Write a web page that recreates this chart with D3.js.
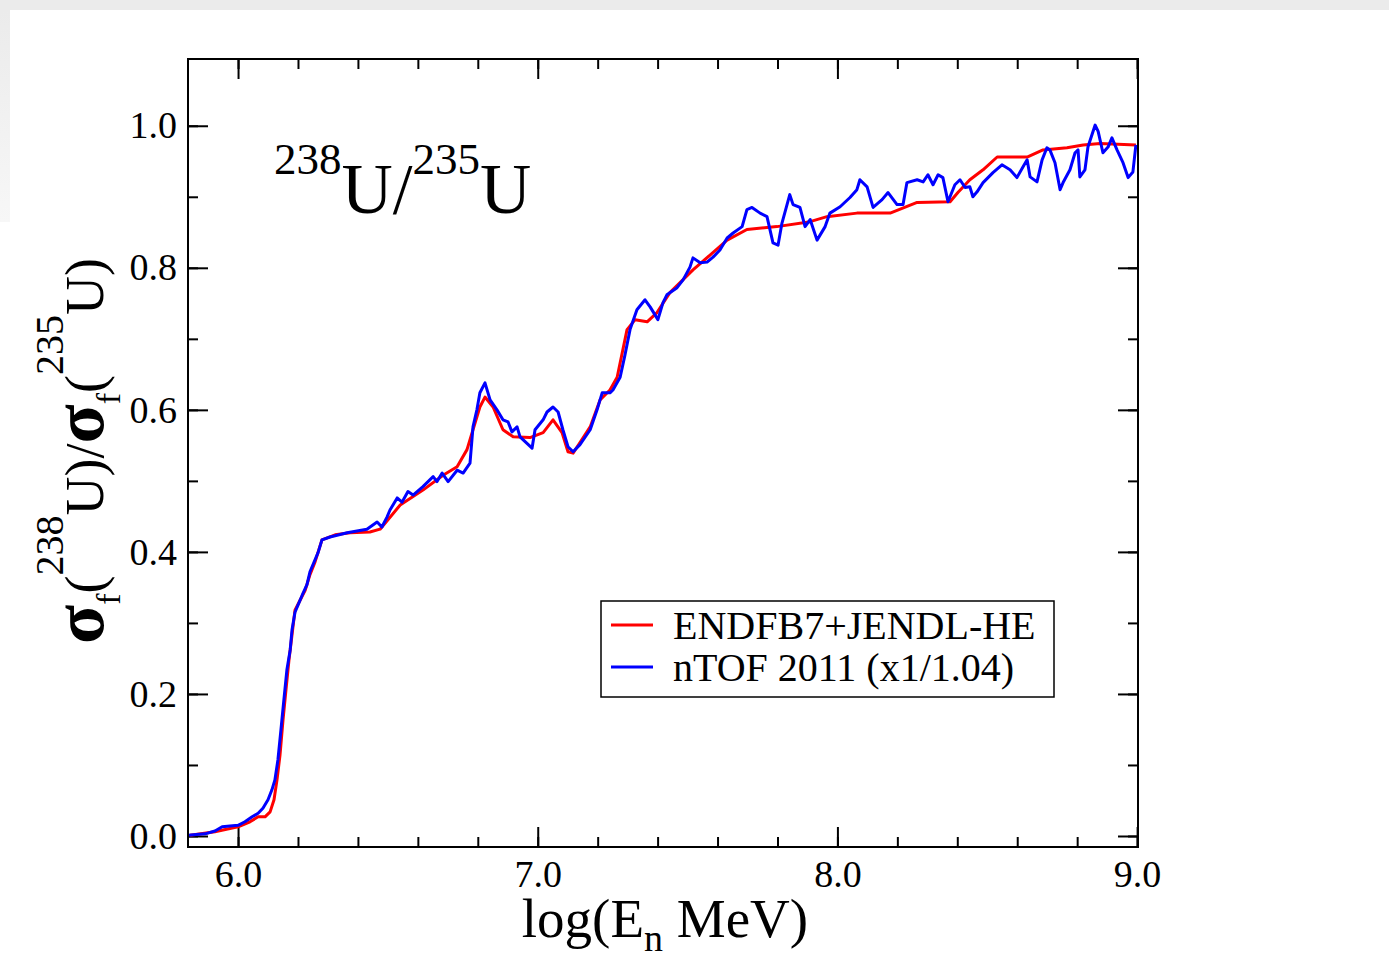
<!DOCTYPE html>
<html>
<head>
<meta charset="utf-8">
<script src="https://cdn.jsdelivr.net/npm/d3@7"></script>
<style>
    body { margin: 0; background: #fff; }
    svg text { font-family: "Liberation Serif", "Times New Roman", serif; fill: #000; }
</style>
</head>
<body>
<div id="graph"></div>
<script>
`use strict`;

// ENDFB7+JENDL-HE evaluation: [log(En), ratio]
let endfb7Jendl = [
    [5.840, 0.001], [5.923, 0.006], [6.000, 0.013], [6.040, 0.020], [6.067, 0.027], [6.090, 0.027],
    [6.107, 0.034], [6.120, 0.051], [6.130, 0.079], [6.140, 0.114], [6.150, 0.163], [6.160, 0.206],
    [6.170, 0.248], [6.180, 0.283], [6.190, 0.318], [6.207, 0.332], [6.224, 0.346], [6.240, 0.368],
    [6.257, 0.386], [6.280, 0.417], [6.324, 0.424], [6.374, 0.427], [6.440, 0.428], [6.474, 0.432],
    [6.541, 0.466], [6.617, 0.487], [6.684, 0.508], [6.731, 0.520], [6.764, 0.544], [6.784, 0.572],
    [6.807, 0.604], [6.824, 0.618], [6.851, 0.604], [6.884, 0.572], [6.918, 0.562], [6.974, 0.561],
    [7.018, 0.568], [7.051, 0.586], [7.081, 0.568], [7.101, 0.541], [7.118, 0.539], [7.141, 0.554],
    [7.175, 0.576], [7.208, 0.614], [7.241, 0.628], [7.265, 0.646], [7.298, 0.713], [7.325, 0.727],
    [7.365, 0.724], [7.398, 0.737], [7.441, 0.765], [7.518, 0.797], [7.575, 0.818], [7.632, 0.839],
    [7.698, 0.854], [7.798, 0.858], [7.909, 0.865], [7.965, 0.872], [8.065, 0.877], [8.176, 0.877],
    [8.266, 0.892], [8.376, 0.893], [8.402, 0.906], [8.442, 0.924], [8.486, 0.938], [8.533, 0.956],
    [8.633, 0.956], [8.686, 0.966], [8.766, 0.969], [8.820, 0.973], [8.876, 0.975], [8.996, 0.973]
];

// nTOF 2011 measurement scaled by 1/1.04: [log(En), ratio]
let ntof2011 = [
    [5.833, 0.001], [5.890, 0.003], [5.923, 0.007], [5.947, 0.013], [5.973, 0.014], [6.000, 0.015],
    [6.023, 0.020], [6.047, 0.027], [6.067, 0.032], [6.083, 0.039], [6.100, 0.051], [6.113, 0.065],
    [6.123, 0.079], [6.133, 0.107], [6.143, 0.149], [6.153, 0.192], [6.163, 0.234], [6.174, 0.262],
    [6.180, 0.290], [6.190, 0.315], [6.200, 0.325], [6.214, 0.339], [6.230, 0.354], [6.240, 0.372],
    [6.254, 0.386], [6.267, 0.399], [6.280, 0.417], [6.307, 0.421], [6.364, 0.427], [6.430, 0.432],
    [6.464, 0.442], [6.480, 0.435], [6.497, 0.449], [6.507, 0.459], [6.531, 0.476], [6.547, 0.470],
    [6.567, 0.485], [6.584, 0.480], [6.617, 0.492], [6.651, 0.506], [6.664, 0.499], [6.681, 0.511],
    [6.701, 0.499], [6.731, 0.515], [6.751, 0.511], [6.774, 0.525], [6.784, 0.576], [6.797, 0.600],
    [6.807, 0.624], [6.824, 0.638], [6.841, 0.614], [6.864, 0.600], [6.884, 0.586], [6.901, 0.583],
    [6.914, 0.569], [6.931, 0.576], [6.941, 0.562], [6.981, 0.546], [6.991, 0.572], [7.018, 0.586],
    [7.031, 0.597], [7.051, 0.604], [7.068, 0.597], [7.084, 0.572], [7.101, 0.548], [7.118, 0.541],
    [7.141, 0.551], [7.175, 0.572], [7.198, 0.600], [7.215, 0.624], [7.241, 0.624], [7.251, 0.628],
    [7.275, 0.646], [7.291, 0.677], [7.308, 0.713], [7.331, 0.741], [7.358, 0.755], [7.375, 0.745],
    [7.401, 0.727], [7.418, 0.751], [7.431, 0.762], [7.465, 0.772], [7.485, 0.783], [7.508, 0.801],
    [7.518, 0.814], [7.542, 0.807], [7.565, 0.808], [7.585, 0.815], [7.608, 0.825], [7.632, 0.842],
    [7.652, 0.849], [7.682, 0.858], [7.698, 0.882], [7.715, 0.885], [7.742, 0.877], [7.765, 0.872],
    [7.785, 0.835], [7.802, 0.832], [7.815, 0.863], [7.841, 0.903], [7.852, 0.889], [7.875, 0.885],
    [7.892, 0.858], [7.909, 0.868], [7.932, 0.839], [7.959, 0.858], [7.975, 0.877], [8.009, 0.886],
    [8.042, 0.899], [8.065, 0.910], [8.075, 0.924], [8.099, 0.914], [8.119, 0.885], [8.149, 0.896],
    [8.169, 0.906], [8.199, 0.889], [8.219, 0.889], [8.232, 0.920], [8.266, 0.924], [8.286, 0.921],
    [8.302, 0.931], [8.319, 0.917], [8.336, 0.931], [8.352, 0.927], [8.369, 0.893], [8.392, 0.917],
    [8.409, 0.924], [8.426, 0.913], [8.442, 0.914], [8.452, 0.900], [8.466, 0.907], [8.486, 0.920],
    [8.519, 0.934], [8.549, 0.945], [8.576, 0.938], [8.599, 0.927], [8.619, 0.942], [8.633, 0.952],
    [8.643, 0.928], [8.666, 0.921], [8.683, 0.952], [8.699, 0.969], [8.709, 0.966], [8.726, 0.948],
    [8.743, 0.910], [8.753, 0.920], [8.776, 0.938], [8.793, 0.962], [8.803, 0.966], [8.809, 0.928],
    [8.826, 0.938], [8.836, 0.970], [8.860, 1.001], [8.870, 0.992], [8.886, 0.962], [8.903, 0.970],
    [8.916, 0.983], [8.933, 0.966], [8.953, 0.948], [8.970, 0.927], [8.986, 0.935], [8.996, 0.973]
];

let xMajorTicks = [6.0, 7.0, 8.0, 9.0];
let xMinorTicks = [6.0, 6.2, 6.4, 6.6, 6.8, 7.0, 7.2, 7.4, 7.6, 7.8, 8.0, 8.2, 8.4, 8.6, 8.8, 9.0];
let yMajorTicks = [0.0, 0.2, 0.4, 0.6, 0.8, 1.0];
let yMinorTicks = [0.0, 0.1, 0.2, 0.3, 0.4, 0.5, 0.6, 0.7, 0.8, 0.9, 1.0];
let xDomain = [5.833, 9.003];
let yDomain = [-0.0155, 1.094];

let seriesNames = ['ENDFB7+JENDL-HE', 'nTOF 2011 (x1/1.04)'];
let seriesColors = ['#ff0000', '#0000ff'];

let w = 1389, h = 956;
let plot = { left: 188, right: 1138, top: 59, bottom: 847 };
let serif = '"Liberation Serif", "Times New Roman", serif';

let svg = d3.select('#graph').append('svg')
    .attr('width', w).attr('height', h)
    .attr('viewBox', `0 0 ${w} ${h}`);

// grey page border like the original screenshot
let defs = svg.append('defs');
let fade = defs.append('linearGradient').attr('id', 'fade')
    .attr('x1', 0).attr('y1', 0).attr('x2', 0).attr('y2', 1);
fade.append('stop').attr('offset', '0%').attr('stop-color', '#ebebeb');
fade.append('stop').attr('offset', '100%').attr('stop-color', '#f7f7f7');
svg.append('rect').attr('x', 0).attr('y', 0).attr('width', w).attr('height', 10).attr('fill', '#ebebeb');
svg.append('rect').attr('x', 0).attr('y', 10).attr('width', 10).attr('height', 212).attr('fill', 'url(#fade)');

defs.append('clipPath').attr('id', 'plotClip').append('rect')
    .attr('x', plot.left).attr('y', plot.top)
    .attr('width', plot.right - plot.left).attr('height', plot.bottom - plot.top);

let x = d3.scaleLinear().domain(xDomain).range([plot.left, plot.right]);
let y = d3.scaleLinear().domain(yDomain).range([plot.bottom, plot.top]);

function styleAxis(g) {
    g.attr('font-size', 38).attr('font-family', serif);
    g.select('.domain').remove();
    g.selectAll('line').attr('stroke', '#000').attr('stroke-width', 2);
    g.selectAll('text').attr('fill', '#000').style('font-family', serif);
}

//ticks point inwards on all four sides
let fmt = d3.format('.1f');
svg.append('g').attr('transform', `translate(0,${plot.bottom})`)
    .call(d3.axisBottom(x).tickValues(xMinorTicks).tickSize(-10).tickFormat(''))
    .call(styleAxis);
svg.append('g').attr('transform', `translate(0,${plot.bottom})`)
    .call(d3.axisBottom(x).tickValues(xMajorTicks).tickSize(-20).tickPadding(13).tickFormat(fmt))
    .call(styleAxis);
svg.append('g').attr('transform', `translate(0,${plot.top})`)
    .call(d3.axisTop(x).tickValues(xMinorTicks).tickSize(-10).tickFormat(''))
    .call(styleAxis);
svg.append('g').attr('transform', `translate(0,${plot.top})`)
    .call(d3.axisTop(x).tickValues(xMajorTicks).tickSize(-20).tickFormat(''))
    .call(styleAxis);

svg.append('g').attr('transform', `translate(${plot.left},0)`)
    .call(d3.axisLeft(y).tickValues(yMinorTicks).tickSize(-10).tickFormat(''))
    .call(styleAxis);
svg.append('g').attr('transform', `translate(${plot.left},0)`)
    .call(d3.axisLeft(y).tickValues(yMajorTicks).tickSize(-20).tickPadding(11).tickFormat(fmt))
    .call(styleAxis);
svg.append('g').attr('transform', `translate(${plot.right},0)`)
    .call(d3.axisRight(y).tickValues(yMinorTicks).tickSize(-10).tickFormat(''))
    .call(styleAxis);
svg.append('g').attr('transform', `translate(${plot.right},0)`)
    .call(d3.axisRight(y).tickValues(yMajorTicks).tickSize(-20).tickFormat(''))
    .call(styleAxis);

// curves
let line = d3.line()
    .x(function (d) { return x(d[0]); })
    .y(function (d) { return y(d[1]); });

let curves = svg.append('g').attr('clip-path', 'url(#plotClip)');
[endfb7Jendl, ntof2011].forEach(function (data, i) {
    curves.append('path')
        .datum(data)
        .attr('d', line)
        .attr('fill', 'none')
        .attr('stroke', seriesColors[i])
        .attr('stroke-width', 3)
        .attr('stroke-linejoin', 'round');
});

// frame
svg.append('rect')
    .attr('x', plot.left).attr('y', plot.top)
    .attr('width', plot.right - plot.left).attr('height', plot.bottom - plot.top)
    .attr('fill', 'none').attr('stroke', '#000').attr('stroke-width', 2);

// title inside the plot
let title = svg.append('text').attr('x', 274).attr('y', 174);
title.append('tspan').attr('font-size', 45).text('238');
title.append('tspan').attr('font-size', 71).attr('dy', 39).text('U/');
title.append('tspan').attr('font-size', 45).attr('dy', -39).text('235');
title.append('tspan').attr('font-size', 71).attr('dy', 39).text('U');

// x label
let xLabel = svg.append('text')
    .attr('x', (plot.left + plot.right) / 2 + 2).attr('y', 937)
    .attr('text-anchor', 'middle').attr('font-size', 55);
xLabel.append('tspan').text('log(E');
xLabel.append('tspan').attr('font-size', 38).attr('dy', 14).text('n');
xLabel.append('tspan').attr('dy', -14).text('\u00a0MeV)');

// y label
let yLabel = svg.append('text')
    .attr('transform', `translate(103,${(plot.top + plot.bottom) / 2 - 2}) rotate(-90)`)
    .attr('text-anchor', 'middle').attr('font-size', 54);
function sigmaPart(isotope) {
    yLabel.append('tspan').attr('font-size', 72).attr('font-weight', 'bold').text('\u03c3');
    yLabel.append('tspan').attr('font-size', 34).attr('dy', 17).text('f');
    yLabel.append('tspan').attr('dy', -17).text('(');
    yLabel.append('tspan').attr('font-size', 40).attr('dy', -40).text(isotope);
    yLabel.append('tspan').attr('dy', 40).text('U)');
}
sigmaPart('238');
yLabel.append('tspan').text('/');
sigmaPart('235');

// legend
let legend = svg.append('g');
legend.append('rect')
    .attr('x', 601).attr('y', 601).attr('width', 453).attr('height', 96)
    .attr('fill', '#fff').attr('stroke', '#000').attr('stroke-width', 1.5);
seriesNames.forEach(function (name, i) {
    let ly = 625 + i * 42;
    legend.append('line')
        .attr('x1', 611).attr('x2', 653).attr('y1', ly).attr('y2', ly)
        .attr('stroke', seriesColors[i]).attr('stroke-width', 3);
    legend.append('text')
        .attr('x', 673).attr('y', ly + 14)
        .attr('font-size', 40).attr('textLength', null).text(name);
});
</script>
</body>
</html>
